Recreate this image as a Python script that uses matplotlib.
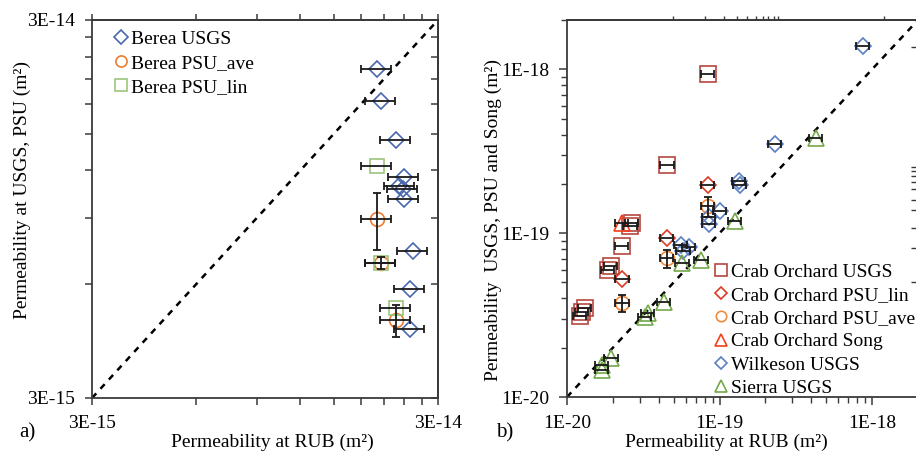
import matplotlib
matplotlib.use('Agg')

import numpy as np
import matplotlib.pyplot as plt
from matplotlib.ticker import NullLocator, NullFormatter, LogLocator

plt.rcParams['font.family'] = ['Liberation Serif', 'DejaVu Serif']
plt.rcParams['font.size'] = 14

# ---- panel a) Berea ----
berea_usgs_x = [2.00e-14, 2.05e-14, 2.27e-14, 2.39e-14, 2.32e-14, 2.37e-14, 2.39e-14, 2.54e-14, 2.49e-14, 2.49e-14]
berea_usgs_y = [2.22e-14, 1.83e-14, 1.44e-14, 1.15e-14, 1.09e-14, 1.07e-14, 1.01e-14, 7.35e-15, 5.82e-15, 4.57e-15]
berea_ave_x = [2.00e-14, 2.05e-14, 2.27e-14]
berea_ave_y = [8.93e-15, 6.82e-15, 4.82e-15]
berea_ave_yerr = [1.55e-15, 0.25e-15, 0.46e-15]
berea_lin_x = [2.00e-14, 2.05e-14, 2.27e-14]
berea_lin_y = [1.23e-14, 6.82e-15, 5.19e-15]

# ---- panel b) Crab Orchard, Wilkeson, Sierra ----
co_usgs_x = [8.4e-20, 4.55e-20, 2.65e-20, 2.60e-20, 2.30e-20, 1.93e-20, 1.86e-20, 1.21e-20, 1.25e-20, 1.31e-20]
co_usgs_y = [9.4e-19, 2.59e-19, 1.16e-19, 1.10e-19, 8.4e-20, 6.3e-20, 5.95e-20, 3.1e-20, 3.3e-20, 3.5e-20]
co_lin_x = [8.4e-20, 4.53e-20, 2.31e-20]
co_lin_y = [1.96e-19, 9.4e-20, 5.23e-20]
co_ave_x = [8.4e-20, 4.53e-20, 2.31e-20]
co_ave_y = [1.46e-19, 7.03e-20, 3.76e-20]
co_ave_yerr = [0.21e-19, 0.9e-20, 0.44e-20]
co_song_x = [2.28e-20]
co_song_y = [1.16e-19]
wilk_x = [8.73e-19, 2.30e-19, 1.34e-19, 1.36e-19, 1.00e-19, 8.5e-20, 8.5e-20, 5.6e-20, 6.3e-20, 5.8e-20]
wilk_y = [1.39e-18, 3.51e-19, 2.09e-19, 1.96e-19, 1.37e-19, 1.26e-19, 1.14e-19, 8.5e-20, 8.2e-20, 7.8e-20]
sierra_x = [4.28e-19, 1.26e-19, 7.6e-20, 5.7e-20, 4.33e-20, 3.4e-20, 3.23e-20, 1.95e-20, 1.70e-20, 1.70e-20]
sierra_y = [3.82e-19, 1.18e-19, 6.87e-20, 6.55e-20, 3.81e-20, 3.24e-20, 3.06e-20, 1.73e-20, 1.56e-20, 1.47e-20]

# odd extra ticks on the frame of panel b
b_top_ticks = [4.95e-20, 8.0e-20, 1.07e-19, 1.30e-19, 1.51e-19, 1.74e-19, 1.93e-19, 2.08e-19, 2.28e-19, 2.42e-19, 1.2e-18]
b_right_ticks = [1.36e-18, 2.52e-19, 2.38e-19, 2.22e-19, 2.04e-19, 1.85e-19, 1.60e-19, 1.39e-19, 1.08e-19, 8.15e-20, 5.05e-20]

SPINE = '#3a3a3a'
ERR = '#1a1a1a'


def series(ax, x, y, marker, color, label, ms, yerr=None, xfrac=0.1):
    x = np.array(x)
    y = np.array(y)
    ax.errorbar(x, y, xerr=x * xfrac, yerr=yerr, fmt='none', ecolor=ERR,
                elinewidth=1.3, capsize=3, capthick=1.3, zorder=3)
    ax.plot(x, y, linestyle='none', marker=marker, ms=ms, mfc='none',
            mec=color, mew=1.2, label=label, zorder=2)


def frame(ax):
    for s in ax.spines.values():
        s.set_color(SPINE)
        s.set_linewidth(1.3)


fig = plt.figure(figsize=(9.16, 4.55), dpi=100)
fig.patch.set_facecolor('white')

# ---------------- panel a ----------------
ax1 = fig.add_axes([92 / 916, 1 - 398 / 455, 346 / 916, 378 / 455])
ax1.set_xscale('log')
ax1.set_yscale('log')
lo, hi = 3e-15, 3e-14
ax1.set_xlim(lo, hi)
ax1.set_ylim(lo, hi)
ax1.plot([lo, hi], [lo, hi], color='black', lw=1.8, ls=(0, (2.5, 2.5)), zorder=1)

series(ax1, berea_usgs_x, berea_usgs_y, 'D', '#4a68b0', 'Berea USGS', 8.5)
series(ax1, berea_ave_x, berea_ave_y, 'o', '#ed7d31', 'Berea PSU_ave', 10, yerr=berea_ave_yerr)
series(ax1, berea_lin_x, berea_lin_y, 's', '#9cc57a', 'Berea PSU_lin', 10)

a_ticks = [3e-15 * k for k in range(1, 11)]
a_labels = ['3E-15'] + [''] * 8 + ['3E-14']
ax1.set_xticks(a_ticks, labels=a_labels)
ax1.set_yticks(a_ticks, labels=a_labels)
ax1.xaxis.set_minor_locator(NullLocator())
ax1.yaxis.set_minor_locator(NullLocator())
ax1.tick_params(direction='out', length=5, width=1.1, color=SPINE, pad=7, labelsize=14)
frame(ax1)
top1 = ax1.secondary_xaxis('top')
top1.set_xticks(a_ticks)
top1.xaxis.set_minor_locator(NullLocator())
top1.tick_params(direction='out', length=4, width=1.1, color=SPINE, labeltop=False)
right1 = ax1.secondary_yaxis('right')
right1.set_yticks(a_ticks)
right1.yaxis.set_minor_locator(NullLocator())
right1.tick_params(direction='in', length=5, width=1.1, color=SPINE, labelright=False)
for sec in (top1, right1):
    for s in sec.spines.values():
        s.set_color(SPINE)
        s.set_linewidth(1.3)

ax1.legend(loc='upper left', bbox_to_anchor=(0.065, 0.972), frameon=False,
           handlelength=0.7, handletextpad=0.15, labelspacing=0.33,
           borderaxespad=0, borderpad=0, markerscale=0.8, fontsize=14)

fig.text(22 / 916, 1 - 190 / 455, 'Permeability at USGS, PSU (m²)', rotation=90,
         ha='center', va='center', fontsize=14)
fig.text(272 / 916, 1 - 442 / 455, 'Permeability at RUB (m²)', ha='center', va='center', fontsize=14)
fig.text(27 / 916, 1 - 433 / 455, 'a)', ha='center', va='center', fontsize=15)

# ---------------- panel b ----------------
ax2 = fig.add_axes([567 / 916, 1 - 397 / 455, 351 / 916, 377 / 455])
ax2.set_xscale('log')
ax2.set_yscale('log')
lo, hi = 1e-20, 2e-18
ax2.set_xlim(lo, hi)
ax2.set_ylim(lo, hi)
ax2.plot([lo, hi], [lo, hi], color='black', lw=1.8, ls=(0, (2.5, 2.5)), zorder=1)

series(ax2, co_usgs_x, co_usgs_y, 's', '#b5473f', 'Crab Orchard USGS', 11)
series(ax2, co_lin_x, co_lin_y, 'D', '#dd3a22', 'Crab Orchard PSU_lin', 8.5)
series(ax2, co_ave_x, co_ave_y, 'o', '#f08a3c', 'Crab Orchard PSU_ave', 10, yerr=co_ave_yerr)
series(ax2, co_song_x, co_song_y, '^', '#f2401c', 'Crab Orchard Song', 11)
series(ax2, wilk_x, wilk_y, 'D', '#5b7fc4', 'Wilkeson USGS', 8.5)
series(ax2, sierra_x, sierra_y, '^', '#74a84a', 'Sierra USGS', 11)

b_ticks = [1e-20, 1e-19, 1e-18]
b_labels = ['1E-20', '1E-19', '1E-18']
ax2.set_xticks(b_ticks, labels=b_labels)
ax2.set_yticks(b_ticks, labels=b_labels)
for axis in (ax2.xaxis, ax2.yaxis):
    axis.set_minor_locator(LogLocator(base=10, subs=range(2, 10)))
    axis.set_minor_formatter(NullFormatter())
ax2.tick_params(which='major', direction='out', length=6, width=1.1, color=SPINE, pad=7, labelsize=14)
ax2.tick_params(which='minor', direction='out', length=4, width=1.0, color=SPINE)
frame(ax2)
top2 = ax2.secondary_xaxis('top')
top2.set_xticks(b_top_ticks)
top2.xaxis.set_minor_locator(NullLocator())
top2.tick_params(direction='out', length=3, width=1.0, color=SPINE, labeltop=False)
right2 = ax2.secondary_yaxis('right')
right2.set_yticks(b_right_ticks)
right2.yaxis.set_minor_locator(NullLocator())
right2.tick_params(direction='in', length=5, width=1.0, color=SPINE, labelright=False)
for sec in (top2, right2):
    for s in sec.spines.values():
        s.set_color(SPINE)
        s.set_linewidth(1.3)

ax2.legend(loc='lower left', bbox_to_anchor=(0.42, 0.0), frameon=False,
           handlelength=0.7, handletextpad=0.15, labelspacing=0.29,
           borderaxespad=0, borderpad=0, markerscale=0.75, fontsize=14)

fig.text(493 / 916, 1 - 220 / 455, 'Permeability  USGS, PSU and Song (m²)', rotation=90,
         ha='center', va='center', fontsize=14)
fig.text(726 / 916, 1 - 442 / 455, 'Permeability at RUB (m²)', ha='center', va='center', fontsize=14)
fig.text(505 / 916, 1 - 433 / 455, 'b)', ha='center', va='center', fontsize=15)

fig.savefig('out.png', dpi=100)
